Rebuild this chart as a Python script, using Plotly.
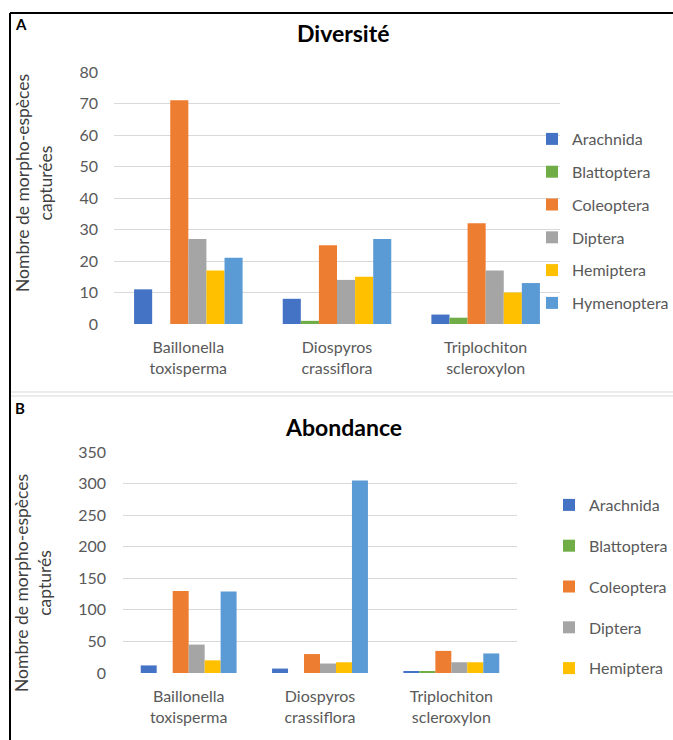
import plotly.graph_objects as go

# Data: morpho-species captured per host tree species
trees = ["Baillonella<br>toxisperma", "Diospyros<br>crassiflora", "Triplochiton<br>scleroxylon"]
orders = ["Arachnida", "Blattoptera", "Coleoptera", "Diptera", "Hemiptera", "Hymenoptera"]
colors = ["#4472C4", "#70AD47", "#ED7D31", "#A5A5A5", "#FFC000", "#5B9BD5"]

# Diversité (number of morpho-species)
div_arachnida = [11, 8, 3]
div_blattoptera = [0, 1, 2]
div_coleoptera = [71, 25, 32]
div_diptera = [27, 14, 17]
div_hemiptera = [17, 15, 10]
div_hymenoptera = [21, 27, 13]

# Abondance (number of individuals)
ab_arachnida = [12, 7, 3]
ab_blattoptera = [0, 0, 2]
ab_coleoptera = [130, 30, 35]
ab_diptera = [45, 15, 17]
ab_hemiptera = [20, 17, 17]
ab_hymenoptera = [129, 305, 31]

diversity = [div_arachnida, div_blattoptera, div_coleoptera, div_diptera, div_hemiptera, div_hymenoptera]
abundance = [ab_arachnida, ab_blattoptera, ab_coleoptera, ab_diptera, ab_hemiptera, ab_hymenoptera]

W, H = 673, 740
FONT = "Lato, 'Open Sans', sans-serif"
TXT = "#595959"


def px_x(x):
    """Pixel column -> paper fraction."""
    return x / W


def px_y(y):
    """Pixel row (from top) -> paper fraction."""
    return 1 - y / H


fig = go.Figure()

for name, col, vals in zip(orders, colors, diversity):
    fig.add_trace(go.Bar(
        x=trees, y=vals, name=name, marker=dict(color=col, line=dict(width=0)),
        xaxis="x", yaxis="y", legend="legend", legendgroup="a_" + name,
    ))

for name, col, vals in zip(orders, colors, abundance):
    fig.add_trace(go.Bar(
        x=trees, y=vals, name=name, marker=dict(color=col, line=dict(width=0)),
        xaxis="x2", yaxis="y2", legend="legend2", legendgroup="b_" + name,
        showlegend=(name != "Hymenoptera"),
    ))

axis_common = dict(showline=False, zeroline=False, ticks="",
                   tickfont=dict(family=FONT, size=16, color=TXT))

fig.update_layout(
    width=W, height=H,
    margin=dict(l=0, r=0, t=0, b=0, autoexpand=False),
    paper_bgcolor="white", plot_bgcolor="white",
    barmode="group", bargap=0.27, bargroupgap=0,
    font=dict(family=FONT, color=TXT),
    xaxis=dict(domain=[px_x(114), px_x(560)], anchor="y", **axis_common,
               showgrid=False, ticklabelstandoff=12),
    yaxis=dict(domain=[px_y(324), px_y(72)], anchor="x", range=[0, 80], dtick=10,
               showgrid=True, gridcolor="#D9D9D9", gridwidth=1, **axis_common,
               ticklabelstandoff=15),
    xaxis2=dict(domain=[px_x(123), px_x(517)], anchor="y2", **axis_common,
                showgrid=False, ticklabelstandoff=12),
    yaxis2=dict(domain=[px_y(673), px_y(452)], anchor="x2", range=[0, 350], dtick=50,
                showgrid=True, gridcolor="#D9D9D9", gridwidth=1, **axis_common,
                ticklabelstandoff=16),
    legend=dict(x=px_x(532), y=px_y(122), xanchor="left", yanchor="top",
                font=dict(family=FONT, size=16, color=TXT), tracegroupgap=9,
                itemwidth=30, bgcolor="rgba(0,0,0,0)"),
    legend2=dict(x=px_x(549), y=px_y(488), xanchor="left", yanchor="top",
                 font=dict(family=FONT, size=16, color=TXT), tracegroupgap=17,
                 itemwidth=30, bgcolor="rgba(0,0,0,0)"),
)

# Panel frame: black top and left edges, light grey separator between panels
fig.add_shape(type="line", xref="paper", yref="paper",
              x0=px_x(10), x1=1, y0=px_y(13), y1=px_y(13),
              line=dict(color="black", width=2))
fig.add_shape(type="line", xref="paper", yref="paper",
              x0=px_x(10), x1=px_x(10), y0=px_y(13), y1=0,
              line=dict(color="black", width=2))
for yy in (392, 396):
    fig.add_shape(type="line", xref="paper", yref="paper",
                  x0=px_x(11), x1=1, y0=px_y(yy), y1=px_y(yy),
                  line=dict(color="#D9D9D9", width=1))

annotations = [
    dict(text="<b>A</b>", x=px_x(13), y=px_y(24), font=dict(size=15, color="black")),
    dict(text="<b>B</b>", x=px_x(13), y=px_y(408), font=dict(size=15, color="black")),
    dict(text="<b>Diversité</b>", x=px_x(343), y=px_y(33), font=dict(size=23, color="black"),
         xanchor="center"),
    dict(text="<b>Abondance</b>", x=px_x(343), y=px_y(427), font=dict(size=23, color="black"),
         xanchor="center"),
    dict(text="Nombre de morpho-espèces<br>capturées", x=px_x(34), y=px_y(183),
         textangle=-90, font=dict(size=17.5, color="#404040"), xanchor="center"),
    dict(text="Nombre de morpho-espèces<br>capturés", x=px_x(33), y=px_y(583),
         textangle=-90, font=dict(size=17.5, color="#404040"), xanchor="center"),
]
for a in annotations:
    a.setdefault("xanchor", "left")
    a["font"]["family"] = FONT
    fig.add_annotation(xref="paper", yref="paper", showarrow=False, yanchor="middle", **a)

fig.write_html("out.html")
